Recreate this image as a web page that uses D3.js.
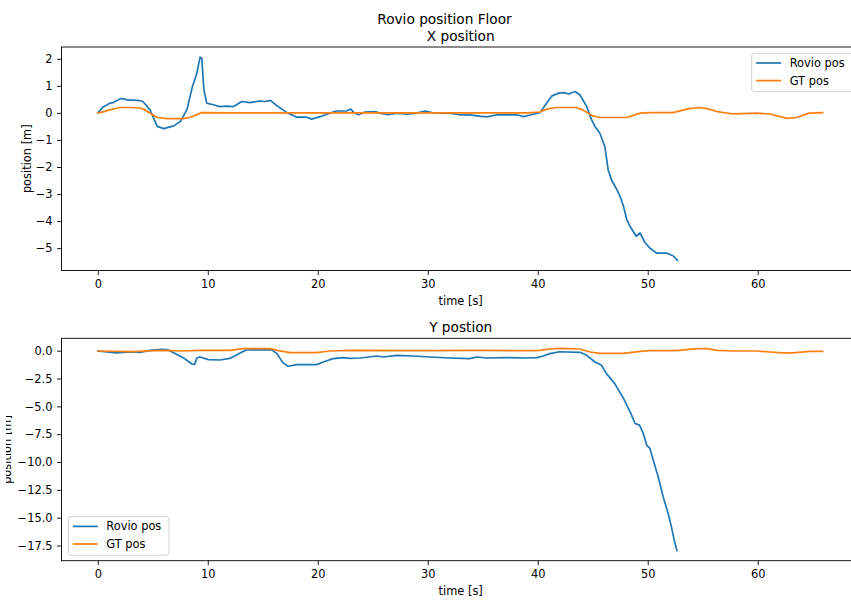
<!DOCTYPE html>
<html>
<head>
<meta charset="utf-8">
<script src="https://cdn.jsdelivr.net/npm/d3@7"></script>
<style>
  html, body { margin: 0; padding: 0; background: #fff; }
  svg { display: block; font-family: "DejaVu Sans", sans-serif; }
</style>
</head>
<body>
<svg id="chart" width="851" height="601"></svg>
<script>
// X position, Rovio estimate
const xRovioT = [0,0.5,0.8,1.1,1.4,1.7,2.1,2.4,2.6,3.2,3.85,4.1,4.75,5.4,6.0,6.9,7.5,8.1,8.6,9.0,9.3,9.45,9.65,9.9,10.5,11.1,11.7,12.3,13.1,13.8,14.75,15.2,15.7,16.3,17.2,18.1,19.0,19.45,20.2,21.1,21.7,22.6,23.0,23.3,23.7,24.3,25.2,25.65,26.4,27.2,28.1,29.0,29.75,30.4,31.4,32.0,32.9,33.8,35.05,35.5,36.3,37.2,38.1,38.7,39.6,40.2,40.8,41.3,41.9,42.4,42.8,43.4,43.85,44.45,44.9,45.2,45.65,46.1,46.4,46.7,47.2,47.5,47.8,48.1,48.4,48.95,49.3,49.75,50.2,50.8,51.7,52.3,52.7];
const xRovioV = [0,0.23,0.28,0.36,0.38,0.45,0.53,0.52,0.48,0.47,0.45,0.42,0.11,-0.5,-0.58,-0.48,-0.32,0.11,0.97,1.46,2.06,2.02,0.85,0.36,0.3,0.23,0.25,0.23,0.42,0.38,0.44,0.42,0.46,0.26,0.01,-0.16,-0.16,-0.23,-0.14,-0.01,0.07,0.07,0.14,0.01,-0.07,0.03,0.05,-0.01,-0.07,-0.01,-0.05,-0.01,0.07,0.01,-0.01,-0.01,-0.07,-0.07,-0.14,-0.14,-0.07,-0.07,-0.07,-0.14,-0.05,0.01,0.36,0.63,0.73,0.75,0.7,0.79,0.66,0.23,-0.26,-0.5,-0.75,-1.24,-2.1,-2.47,-2.84,-3.1,-3.46,-3.95,-4.2,-4.56,-4.44,-4.79,-5.0,-5.18,-5.18,-5.28,-5.45];

// X position, ground truth
const xGtT = [0,0.5,1.0,2.0,3.0,3.85,4.3,5.35,6.3,7.8,8.4,9.45,12,16,20,25,30,35,39,40.2,40.8,41.7,43.5,44.1,45,45.65,48.1,49.3,50.2,52.3,53.75,54.65,55.4,56.3,57.8,59.9,61.1,62.65,63.5,64.7,65.9];
const xGtV = [0,0.04,0.1,0.2,0.2,0.18,0.11,-0.16,-0.21,-0.21,-0.16,0.01,0,0,0,0,0,0,0,0.03,0.14,0.2,0.2,0.11,-0.11,-0.17,-0.17,-0.01,0.01,0.01,0.16,0.2,0.16,0.05,-0.04,-0.01,-0.04,-0.2,-0.17,-0.01,0.01];

// Y position, Rovio estimate
const yRovioT = [0,1.7,2.9,3.85,4.75,5.8,6.3,6.9,7.8,8.55,8.8,9.0,9.3,10.05,11.1,12.0,12.95,13.5,15.05,15.8,16.3,16.8,17.3,18.1,19.0,19.9,20.5,21.4,22.3,22.9,23.85,25.35,25.95,27.2,28.7,30.2,32.0,33.8,34.45,35.35,37.2,39.0,39.9,40.5,41.1,42.0,43.85,44.45,45.2,45.8,46.25,47.0,47.8,48.4,48.85,49.25,49.6,49.9,50.2,50.5,50.95,51.4,51.85,52.15,52.4,52.65];
const yRovioV = [-0.03,-0.2,-0.12,-0.15,0.03,0.12,0.1,-0.18,-0.65,-1.2,-1.23,-0.66,-0.57,-0.81,-0.84,-0.7,-0.2,0.06,0.07,0.07,-0.27,-1.05,-1.4,-1.25,-1.25,-1.25,-1.02,-0.72,-0.62,-0.7,-0.66,-0.48,-0.57,-0.42,-0.48,-0.57,-0.66,-0.72,-0.57,-0.66,-0.63,-0.66,-0.63,-0.48,-0.27,-0.1,-0.15,-0.42,-1.02,-1.32,-2.06,-2.96,-4.3,-5.5,-6.54,-6.69,-7.43,-8.48,-8.78,-9.82,-11.32,-13.11,-14.6,-15.8,-16.99,-17.95];

// Y position, ground truth
const yGtT = [0,3.2,5.8,7.8,9.3,12,13.2,15.65,16.3,17.5,19.9,21.1,22.9,30,35,39.5,40.2,41.1,42,43.85,44.75,45.65,47.8,49.3,50.2,52.6,53.75,54.65,55.4,56.3,57.8,59.9,61.1,62.3,63.2,64.7,65.9];
const yGtV = [-0.03,-0.08,0.03,-0.03,0.03,0.03,0.18,0.18,0.03,-0.18,-0.18,-0.03,0.03,0,0.02,0,0.03,0.15,0.2,0.15,-0.12,-0.24,-0.24,-0.06,0,0,0.12,0.18,0.18,0.03,-0.03,-0.03,-0.12,-0.2,-0.2,-0.06,-0.06];

const xTicks = [0, 10, 20, 30, 40, 50, 60];
const topYTicks = [-5, -4, -3, -2, -1, 0, 1, 2];
const bottomYTicks = [0, -2.5, -5, -7.5, -10, -12.5, -15, -17.5];

const seriesNames = ["Rovio pos", "GT pos"];
const seriesColors = ["#1f77b4", "#ff7f0e"];

const svg = d3.select("#chart");
const minus = s => s.replace("-", "\u2212");

function zip(t, v) { return t.map((d, i) => [d, v[i]]); }

// left edge of the visible figure area for the lower y label
svg.append("clipPath").attr("id", "labelclip")
  .append("rect").attr("x", 6).attr("y", 0).attr("width", 845).attr("height", 601);

function panel(opts) {
  const x = d3.scaleLinear().domain([-3.3, 69.3]).range([61.5, 860]);
  const y = d3.scaleLinear().domain(opts.yDomain).range([opts.bottom, opts.top]);
  const g = svg.append("g");
  const clipId = "clip" + opts.id;
  svg.append("clipPath").attr("id", clipId)
    .append("rect").attr("x", 61.5).attr("y", opts.top).attr("width", 860 - 61.5).attr("height", opts.bottom - opts.top);

  const line = d3.line().x(d => x(d[0])).y(d => y(d[1]));
  const lines = g.append("g").attr("clip-path", `url(#${clipId})`);
  opts.series.forEach((s, i) => {
    lines.append("path").datum(s)
      .attr("d", line)
      .attr("fill", "none")
      .attr("stroke", seriesColors[i])
      .attr("stroke-width", 1.7)
      .attr("stroke-linejoin", "round")
      .attr("stroke-linecap", "square");
  });

  // x axis
  const xa = g.append("g").attr("transform", `translate(0,${opts.bottom})`)
    .call(d3.axisBottom(x).tickValues(xTicks).tickSize(4.5).tickSizeOuter(0).tickPadding(4.5).tickFormat(d3.format("d")));
  // y axis
  const ya = g.append("g").attr("transform", `translate(61.5,0)`)
    .call(d3.axisLeft(y).tickValues(opts.yTicks).tickSize(4.5).tickSizeOuter(0).tickPadding(4.5)
      .tickFormat(d => minus(opts.yFmt(d))));
  [xa, ya].forEach(a => {
    a.select(".domain").remove();
    a.selectAll(".tick line").attr("stroke", "#000").attr("stroke-width", 0.9);
    a.selectAll(".tick text").attr("fill", "#000").style("font-size", "11.4px").style("font-family", "DejaVu Sans");
  });

  // frame
  g.append("rect").attr("x", 61.5).attr("y", opts.top)
    .attr("width", 860 - 61.5).attr("height", opts.bottom - opts.top)
    .attr("fill", "none").attr("stroke", "#000").attr("stroke-width", 0.9);

  // titles and labels
  g.append("text").attr("x", 460.7).attr("y", opts.top - 6)
    .attr("text-anchor", "middle").style("font-size", "13.7px").text(opts.title);
  g.append("text").attr("x", 460.7).attr("y", opts.bottom + 34)
    .attr("text-anchor", "middle").style("font-size", "11.4px").text("time [s]");
  g.append("g").attr("clip-path", "url(#labelclip)").append("text")
    .attr("transform", `translate(${opts.ylabelX},${(opts.top + opts.bottom) / 2}) rotate(-90)`)
    .attr("text-anchor", "middle").style("font-size", "11.4px").text("position [m]");

  // legend
  const lg = g.append("g").attr("transform", `translate(${opts.legend[0]},${opts.legend[1]})`);
  lg.append("rect").attr("x", 0).attr("y", 0).attr("width", opts.legendW).attr("height", 38.5)
    .attr("rx", 2.5).attr("fill", "#fff").attr("fill-opacity", 0.8)
    .attr("stroke", "#cccccc").attr("stroke-width", 0.9);
  seriesNames.forEach((n, i) => {
    const yy = 9.7 + i * 17.6;
    lg.append("line").attr("x1", 4.5).attr("x2", 29.5).attr("y1", yy).attr("y2", yy)
      .attr("stroke", seriesColors[i]).attr("stroke-width", 1.7);
    lg.append("text").attr("x", 38).attr("y", yy + 4.1).style("font-size", "11.4px").text(n);
  });
}

panel({
  id: "top", top: 47, bottom: 270.5, yDomain: [-5.8255, 2.4355], yTicks: topYTicks,
  yFmt: d3.format("d"), title: "X position", ylabelX: 31,
  series: [zip(xRovioT, xRovioV), zip(xGtT, xGtV)], legend: [751.7, 53.3], legendW: 110
});
panel({
  id: "bottom", top: 338.3, bottom: 560.7, yDomain: [-18.86, 1.11], yTicks: bottomYTicks,
  yFmt: d3.format(".1f"), title: "Y postion", ylabelX: 10.5,
  series: [zip(yRovioT, yRovioV), zip(yGtT, yGtV)], legend: [68.3, 516.7], legendW: 100.7
});

svg.append("text").attr("x", 444.5).attr("y", 24)
  .attr("text-anchor", "middle").style("font-size", "13.7px").text("Rovio position Floor");
</script>
</body>
</html>
